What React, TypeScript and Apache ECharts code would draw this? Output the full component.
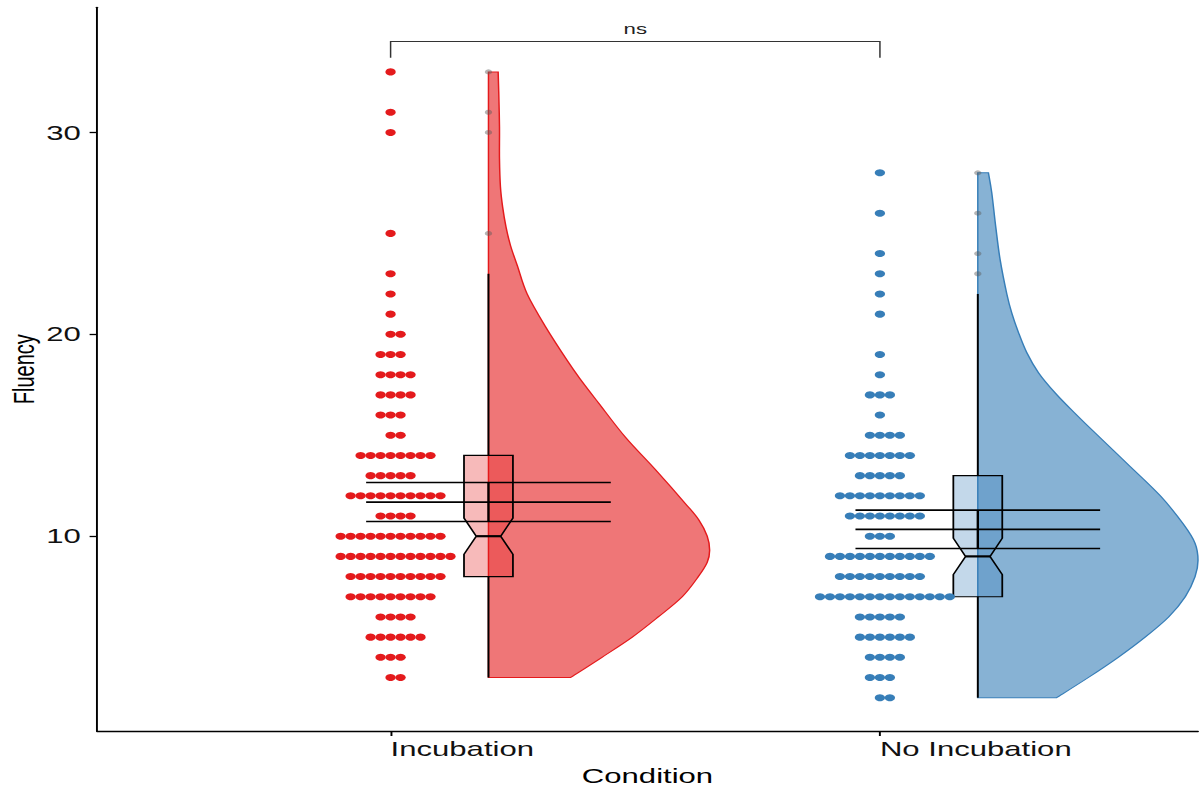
import React, { useEffect, useRef } from 'react';
import * as echarts from 'echarts';

// ---------------- data ----------------
const CATEGORIES = ['Incubation', 'No Incubation'];
const Y_TICKS = [10, 20, 30];

// dot plot: fluency value and number of participants with that value
const INC_VALUES = [3, 4, 5, 6, 7, 8, 9, 10, 11, 12, 13, 14, 15, 16, 17, 18, 19, 20, 21, 22, 23, 25, 30, 31, 33];
const INC_COUNTS = [2, 3, 6, 4, 9, 10, 12, 11, 4, 10, 5, 8, 2, 3, 4, 4, 3, 2, 1, 1, 1, 1, 1, 1, 1];
const NOINC_VALUES = [2, 3, 4, 5, 6, 7, 8, 9, 10, 11, 12, 13, 14, 15, 16, 17, 18, 19, 21, 22, 23, 24, 26, 28];
const NOINC_COUNTS = [2, 3, 4, 6, 5, 14, 9, 11, 3, 8, 9, 5, 7, 4, 1, 3, 1, 1, 1, 1, 1, 1, 1, 1];

// boxplot: [lower whisker, Q1, median, Q3, upper whisker]
const INC_BOX = [3, 8, 10, 14, 23];
const NOINC_BOX = [2, 7, 9, 13, 22];
const INC_NOTCH = [9.1, 10.9];
const NOINC_NOTCH = [8.1, 9.9];
const INC_OUTLIERS = [25, 30, 31, 33];
const NOINC_OUTLIERS = [23, 24, 26, 28];

// mean and 95% CI
const MEANS = [11.69, 10.34];
const CI_LOW = [10.73, 9.39];
const CI_HIGH = [12.66, 11.29];

// half violin profile (value, width in x-axis units)
const INC_VIOLIN_Y = [3, 4, 5, 6, 7, 8, 8.7, 9.3, 10, 10.8, 11.6, 13.3, 14.9, 16.6, 17.8, 18.7, 20.4, 22, 23.4, 24.4, 25.3, 26.3, 27.3, 28.7, 30.3, 32, 33];
const INC_VIOLIN_W = [0.168, 0.232, 0.294, 0.347, 0.396, 0.429, 0.447, 0.452, 0.447, 0.43, 0.403, 0.341, 0.28, 0.225, 0.187, 0.161, 0.116, 0.079, 0.059, 0.045, 0.036, 0.029, 0.0245, 0.0225, 0.0225, 0.021, 0.0198];
const NOINC_VIOLIN_Y = [2, 3, 4, 5, 6, 7, 8, 8.8, 9.65, 10.6, 12, 13.6, 15.3, 16.1, 17.1, 18.1, 19.1, 20.1, 21.05, 22, 23.7, 25.3, 27, 28];
const NOINC_VIOLIN_W = [0.161, 0.226, 0.287, 0.342, 0.39, 0.424, 0.444, 0.45, 0.444, 0.42, 0.373, 0.305, 0.232, 0.198, 0.158, 0.124, 0.1, 0.083, 0.0695, 0.0593, 0.0456, 0.0368, 0.0286, 0.0217];

const SIG_LABEL = 'ns';

// ---------------- layout / style constants ----------------
const FULL_W = 1203;
const FULL_H = 790;
const S = 1.48; // horizontal stretch of the reference picture
const W = FULL_W / S;

const VIOLIN_OFFSET = 0.2;
const BOX_HALF = 0.05;
const NOTCH_INSET = 0.025;
const CI_LEFT = -0.05;
const CI_RIGHT = 0.45;
const DOT_STEP = 0.0204;

const RED = '#e41a1c';
const BLUE = '#377eb8';
const FONT = 'Liberation Sans, Arial, Helvetica, sans-serif';

// smooth half-violin outline: straight base, Catmull-Rom curve through the profile points
const ViolinShape = (echarts.graphic as any).extendShape({
  type: 'halfViolin',
  shape: { base0: [0, 0], base1: [0, 0], points: [] as number[][] },
  buildPath(ctx: any, shape: any) {
    const p = shape.points as number[][];
    if (!p || !p.length) return;
    ctx.moveTo(shape.base0[0], shape.base0[1]);
    ctx.lineTo(p[0][0], p[0][1]);
    for (let i = 0; i < p.length - 1; i++) {
      const p0 = p[i - 1] || p[i];
      const p1 = p[i];
      const p2 = p[i + 1];
      const p3 = p[i + 2] || p[i + 1];
      ctx.bezierCurveTo(
        p1[0] + (p2[0] - p0[0]) / 6, p1[1] + (p2[1] - p0[1]) / 6,
        p2[0] - (p3[0] - p1[0]) / 6, p2[1] - (p3[1] - p1[1]) / 6,
        p2[0], p2[1]
      );
    }
    ctx.lineTo(shape.base1[0], shape.base1[1]);
    ctx.closePath();
  },
});
(echarts.graphic as any).registerShape('halfViolin', ViolinShape);

function dotPoints(cat: number, values: number[], counts: number[]) {
  const pts: number[][] = [];
  values.forEach((v, i) => {
    const n = counts[i];
    const start = -Math.floor((n - 1) / 2);
    for (let k = 0; k < n; k++) pts.push([cat + (start + k) * DOT_STEP, v]);
  });
  return pts;
}

function violinSeries(cat: number, ys: number[], ws: number[], fill: string, stroke: string) {
  return {
    type: 'custom',
    z: 1,
    data: [[cat + VIOLIN_OFFSET, ys[0]]],
    renderItem: (_p: any, api: any) => {
      const base = cat + VIOLIN_OFFSET;
      const pts = ys.map((y, i) => api.coord([base + ws[i], y]));
      return {
        type: 'halfViolin',
        shape: {
          base0: api.coord([base, ys[0]]),
          base1: api.coord([base, ys[ys.length - 1]]),
          points: pts,
        },
        style: { fill, stroke, lineWidth: 1 },
      };
    },
  };
}

function boxSeries(cat: number, box: number[], notch: number[], fill: string) {
  return {
    type: 'custom',
    z: 2,
    data: [[cat + VIOLIN_OFFSET, box[2]]],
    renderItem: (_p: any, api: any) => {
      const c = cat + VIOLIN_OFFSET;
      const x0 = c - BOX_HALF;
      const x1 = c + BOX_HALF;
      const [lw, q1, med, q3, uw] = box;
      const [nLo, nHi] = notch;
      const pts = [
        [x0, q1], [x0, nLo], [x0 + NOTCH_INSET, med], [x0, nHi], [x0, q3],
        [x1, q3], [x1, nHi], [x1 - NOTCH_INSET, med], [x1, nLo], [x1, q1],
      ].map((p) => api.coord(p));
      const line = (a: number[], b: number[], w: number) => {
        const pa = api.coord(a);
        const pb = api.coord(b);
        return {
          type: 'line',
          shape: { x1: pa[0], y1: pa[1], x2: pb[0], y2: pb[1] },
          style: { stroke: '#000', lineWidth: w },
        };
      };
      return {
        type: 'group',
        children: [
          { type: 'polygon', shape: { points: pts }, style: { fill, stroke: '#000', lineWidth: 1.2 } },
          line([x0 + NOTCH_INSET, med], [x1 - NOTCH_INSET, med], 2.2),
          line([c, q3], [c, uw], 1.3),
          line([c, q1], [c, lw], 1.3),
        ],
      };
    },
  };
}

function ciSeries() {
  return {
    type: 'custom',
    z: 3,
    data: MEANS.map((m, i) => [i + 1, m]),
    renderItem: (p: any, api: any) => {
      const i = p.dataIndex;
      const cat = i + 1;
      const line = (a: number[], b: number[]) => {
        const pa = api.coord(a);
        const pb = api.coord(b);
        return {
          type: 'line',
          shape: { x1: pa[0], y1: pa[1], x2: pb[0], y2: pb[1] },
          style: { stroke: '#000', lineWidth: 1.6 },
        };
      };
      return {
        type: 'group',
        children: [
          line([cat + CI_LEFT, CI_HIGH[i]], [cat + CI_RIGHT, CI_HIGH[i]]),
          line([cat + CI_LEFT, MEANS[i]], [cat + CI_RIGHT, MEANS[i]]),
          line([cat + CI_LEFT, CI_LOW[i]], [cat + CI_RIGHT, CI_LOW[i]]),
          line([cat + VIOLIN_OFFSET, CI_LOW[i]], [cat + VIOLIN_OFFSET, CI_HIGH[i]]),
        ],
      };
    },
  };
}

function bracketSeries() {
  return {
    type: 'custom',
    z: 5,
    data: [[1.5, 34.5]],
    renderItem: (_p: any, api: any) => {
      const a = api.coord([1, 33.7]);
      const b = api.coord([1, 34.5]);
      const c = api.coord([2, 34.5]);
      const d = api.coord([2, 33.7]);
      const t = api.coord([1.5, 34.5]);
      return {
        type: 'group',
        children: [
          { type: 'polyline', shape: { points: [a, b, c, d] }, style: { stroke: '#333', lineWidth: 1, fill: 'none' } },
          {
            type: 'text',
            x: t[0],
            y: t[1] - 5,
            style: { text: SIG_LABEL, fill: '#222', fontSize: 15, fontFamily: FONT, align: 'center', verticalAlign: 'bottom' },
          },
        ],
      };
    },
  };
}

export default function App() {
  const ref = useRef<HTMLDivElement>(null);

  useEffect(() => {
    if (!ref.current) return;
    const chart = echarts.init(ref.current, undefined, { renderer: 'svg', width: W, height: FULL_H });
    const option: any = {
      animation: false,
      backgroundColor: '#fff',
      textStyle: { fontFamily: FONT },
      grid: { left: 97 / S, right: 5 / S, top: 7.3, bottom: 59, containLabel: false, outerBoundsMode: 'none' },
      xAxis: {
        type: 'value',
        min: 0.4,
        max: 2.65,
        name: 'Condition',
        nameLocation: 'middle',
        nameGap: 34,
        nameMoveOverlap: false,
        nameTextStyle: { fontSize: 21, color: '#000', fontFamily: FONT },
        axisLine: { show: true, lineStyle: { color: '#000', width: 1.3 } },
        axisTick: { show: true, length: 5, customValues: [1, 2], lineStyle: { color: '#000', width: 1.3 } },
        axisLabel: {
          customValues: [1, 2],
          formatter: (v: number) => CATEGORIES[Math.round(v) - 1],
          align: 'left',
          margin: 7,
          fontSize: 21,
          color: '#111',
          fontFamily: FONT,
        },
        splitLine: { show: false },
      },
      yAxis: {
        type: 'value',
        min: 0.35,
        max: 36.2,
        name: 'Fluency',
        nameLocation: 'middle',
        nameGap: 40,
        nameMoveOverlap: false,
        nameTextStyle: { fontSize: 20, color: '#000', fontFamily: FONT },
        axisLine: { show: true, lineStyle: { color: '#000', width: 1.3 } },
        axisTick: { show: true, length: 5, customValues: Y_TICKS, lineStyle: { color: '#000', width: 1.3 } },
        axisLabel: { customValues: Y_TICKS, margin: 11, fontSize: 21, color: '#111', fontFamily: FONT },
        splitLine: { show: false },
      },
      series: [
        violinSeries(1, INC_VIOLIN_Y, INC_VIOLIN_W, 'rgba(228,26,28,0.6)', RED),
        violinSeries(2, NOINC_VIOLIN_Y, NOINC_VIOLIN_W, 'rgba(55,126,184,0.6)', BLUE),
        boxSeries(1, INC_BOX, INC_NOTCH, 'rgba(228,26,28,0.3)'),
        boxSeries(2, NOINC_BOX, NOINC_NOTCH, 'rgba(55,126,184,0.3)'),
        ciSeries(),
        {
          type: 'scatter',
          z: 4,
          symbol: 'circle',
          symbolSize: 7,
          itemStyle: { color: RED, opacity: 1 },
          data: dotPoints(1, INC_VALUES, INC_COUNTS),
        },
        {
          type: 'scatter',
          z: 4,
          symbol: 'circle',
          symbolSize: 7,
          itemStyle: { color: BLUE, opacity: 1 },
          data: dotPoints(2, NOINC_VALUES, NOINC_COUNTS),
        },
        {
          type: 'scatter',
          z: 4,
          symbolSize: 5,
          itemStyle: { color: 'rgba(90,90,90,0.45)', opacity: 1 },
          data: [
            ...INC_OUTLIERS.map((v) => [1 + VIOLIN_OFFSET, v]),
            ...NOINC_OUTLIERS.map((v) => [2 + VIOLIN_OFFSET, v]),
          ],
        },
        bracketSeries(),
      ],
    };
    chart.setOption(option);
    return () => chart.dispose();
  }, []);

  return (
    <div style={{ position: 'absolute', left: 0, top: 0, width: FULL_W, height: FULL_H, overflow: 'hidden', background: '#fff' }}>
      <div
        ref={ref}
        style={{ width: W, height: FULL_H, transform: `scaleX(${S})`, transformOrigin: '0 0' }}
      />
    </div>
  );
}
